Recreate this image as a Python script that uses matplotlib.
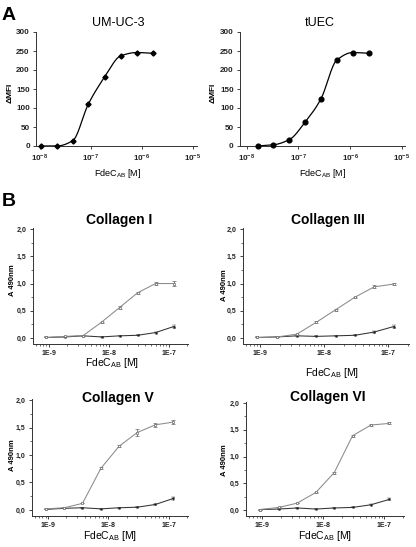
import numpy as np
import matplotlib
matplotlib.use("Agg")
import matplotlib.pyplot as plt
from matplotlib.ticker import FixedLocator, LogLocator, NullFormatter, NullLocator

plt.rcParams['font.family'] = ['Liberation Sans', 'DejaVu Sans']
plt.rcParams['mathtext.fontset'] = 'custom'
plt.rcParams['mathtext.rm'] = 'Liberation Sans'
plt.rcParams['mathtext.bf'] = 'Liberation Sans:bold'
plt.rcParams['mathtext.default'] = 'regular'

# ---------------- Data: panel A ----------------
umuc3_conc = [1.03e-8, 2.14e-8, 4.37e-8, 8.9e-8, 1.86e-7, 3.8e-7, 7.9e-7, 1.62e-6]
umuc3_mfi = [0, 0, 14, 111, 182, 237, 246, 244]
tuec_conc = [1.62e-8, 3.27e-8, 6.7e-8, 1.35e-7, 2.7e-7, 5.5e-7, 1.12e-6, 2.3e-6]
tuec_mfi = [0, 3, 17, 63, 123, 226, 246, 244]
a_titles = ["UM-UC-3", "tUEC"]
a_xticks = [1e-8, 1e-7, 1e-6, 1e-5]
a_yticks = [0, 50, 100, 150, 200, 250, 300]

# ---------------- Data: panel B ----------------
b_conc = [0.9e-9, 1.85e-9, 3.7e-9, 7.5e-9, 1.5e-8, 3.0e-8, 6.0e-8, 1.2e-7]
b_titles = ["Collagen I", "Collagen III", "Collagen V", "Collagen VI"]
b_upper = [
    [0.01, 0.03, 0.045, 0.29, 0.56, 0.83, 1.00, 1.00],
    [0.01, 0.02, 0.07, 0.29, 0.52, 0.75, 0.94, 0.99],
    [0.02, 0.04, 0.12, 0.76, 1.16, 1.41, 1.55, 1.60],
    [0.01, 0.05, 0.13, 0.33, 0.70, 1.39, 1.59, 1.62],
]
b_upper_err = [
    [0, 0, 0, 0.01, 0.03, 0.02, 0.02, 0.05],
    [0, 0, 0.01, 0.02, 0.02, 0.01, 0.03, 0.02],
    [0, 0, 0, 0.02, 0.02, 0.07, 0.04, 0.03],
    [0, 0, 0, 0.01, 0.02, 0.02, 0.02, 0.02],
]
b_lower = [
    [0.01, 0.02, 0.04, 0.02, 0.04, 0.05, 0.10, 0.21],
    [0.01, 0.02, 0.04, 0.03, 0.04, 0.05, 0.11, 0.21],
    [0.01, 0.03, 0.04, 0.02, 0.04, 0.05, 0.10, 0.21],
    [0.01, 0.02, 0.04, 0.02, 0.04, 0.05, 0.10, 0.20],
]
b_lower_err = [
    [0, 0, 0, 0, 0, 0, 0.01, 0.02],
    [0, 0, 0, 0, 0, 0, 0.01, 0.02],
    [0, 0, 0, 0, 0, 0, 0.01, 0.02],
    [0, 0, 0, 0, 0, 0, 0.01, 0.02],
]
b_xticks = [1e-9, 1e-8, 1e-7]
b_xticklabels = ["1E-9", "1E-8", "1E-7"]
b_yticks = [0.0, 0.5, 1.0, 1.5, 2.0]
b_yticklabels = ["0,0", "0,5", "1,0", "1,5", "2,0"]

W, H = 416, 547
fig = plt.figure(figsize=(W / 100, H / 100), dpi=100)


def rect(x0, x1, ytop, ybot):
    return [x0 / W, 1 - ybot / H, (x1 - x0) / W, (ybot - ytop) / H]


def ftext(x, y, s, **kw):
    fig.text(x / W, 1 - y / H, s, ha=kw.pop('ha', 'center'), va=kw.pop('va', 'center'), **kw)


def pchip(x, y, xn):
    x = np.asarray(x, float); y = np.asarray(y, float)
    h = np.diff(x); d = np.diff(y) / h
    n = len(x); m = np.zeros(n)
    for k in range(1, n - 1):
        if d[k - 1] * d[k] <= 0:
            m[k] = 0
        else:
            w1 = 2 * h[k] + h[k - 1]; w2 = h[k] + 2 * h[k - 1]
            m[k] = (w1 + w2) / (w1 / d[k - 1] + w2 / d[k])
    m[0] = d[0]; m[-1] = d[-1]
    idx = np.clip(np.searchsorted(x, xn) - 1, 0, n - 2)
    t = (xn - x[idx]) / h[idx]
    h00 = 2 * t**3 - 3 * t**2 + 1; h10 = t**3 - 2 * t**2 + t
    h01 = -2 * t**3 + 3 * t**2; h11 = t**3 - t**2
    return h00 * y[idx] + h10 * h[idx] * m[idx] + h01 * y[idx + 1] + h11 * h[idx] * m[idx + 1]


# ---------------- Panel A ----------------
a_rects = [rect(36, 197, 32, 146), rect(240, 405, 32, 146)]
a_xlims = [(10**-8.08, 10**-4.92), (10**-8.13, 10**-4.94)]
a_data = [(umuc3_conc, umuc3_mfi, 'D', 2.6), (tuec_conc, tuec_mfi, 'o', 3.4)]
a_title_pos = [(118, 23), (320, 23)]
a_xlabel_pos = [(118, 173), (323, 173)]
a_ylabel_pos = [(10, 93), (213, 93)]

for i in range(2):
    ax = fig.add_axes(a_rects[i])
    xs, ys, mk, ms = a_data[i]
    lx = np.log10(xs)
    xn = np.linspace(lx[0], lx[-1], 300)
    ax.plot(10**xn, pchip(lx, ys, xn), color='black', lw=0.9, clip_on=False)
    ax.plot(xs, ys, linestyle='none', marker=mk, color='black', ms=ms, clip_on=False, zorder=3)
    ax.set_xscale('log')
    ax.set_xlim(*a_xlims[i])
    ax.set_ylim(0, 300)
    ax.xaxis.set_major_locator(FixedLocator(a_xticks))
    ax.xaxis.set_minor_locator(NullLocator())
    ax.yaxis.set_major_locator(FixedLocator(a_yticks))
    for s in ['top', 'right']:
        ax.spines[s].set_visible(False)
    for s in ['left', 'bottom']:
        ax.spines[s].set_linewidth(0.7)
        ax.spines[s].set_color('#333333')
    ax.tick_params(direction='out', length=2.5, width=0.6, labelsize=5.8, pad=2, colors='#222222')
    for lab in ax.get_xticklabels() + ax.get_yticklabels():
        lab.set_fontweight('bold')
    ftext(*a_title_pos[i], a_titles[i], fontsize=9)
    ftext(*a_xlabel_pos[i], r"FdeC$_{AB}$ [M]", fontsize=6.5)
    ftext(*a_ylabel_pos[i], "ΔMFI", fontsize=6, rotation=90, fontweight='bold')

ftext(2, 15, "A", fontsize=14, fontweight='bold', ha='left')
ftext(2, 202, "B", fontsize=14, fontweight='bold', ha='left')

# ---------------- Panel B ----------------
b_rects = [rect(33, 188, 228, 344), rect(243, 409, 228, 344),
           rect(32, 188, 399, 516), rect(246, 404, 402, 516)]
b_title_pos = [(119, 220), (328, 220), (118, 398), (328, 397)]
b_xlabel_pos = [(112, 363), (332, 373), (110, 536), (325, 536)]
b_ylabel_pos = [(12, 280), (225, 285), (12, 455), (225, 460)]

for i in range(4):
    ax = fig.add_axes(b_rects[i])
    ax.errorbar(b_conc, b_upper[i], yerr=b_upper_err[i], color='#8a8a8a', lw=0.75,
                marker='s', ms=1.8, mfc='white', mec='#6a6a6a', mew=0.5,
                ecolor='#6a6a6a', elinewidth=0.6, capsize=1.5, capthick=0.6, zorder=3)
    ax.errorbar(b_conc, b_lower[i], yerr=b_lower_err[i], color='#333333', lw=0.75,
                marker='s', ms=1.2, mfc='#222222', mec='#222222', mew=0.3,
                ecolor='#333333', elinewidth=0.6, capsize=1.5, capthick=0.6, zorder=2)
    ax.set_xscale('log')
    ax.set_xlim(10**-9.27, 10**-6.68)
    ax.set_ylim(-0.11, 2.02)
    ax.xaxis.set_major_locator(FixedLocator(b_xticks))
    ax.set_xticklabels(b_xticklabels)
    ax.xaxis.set_minor_locator(LogLocator(base=10, subs=np.arange(2, 10)))
    ax.xaxis.set_minor_formatter(NullFormatter())
    ax.yaxis.set_major_locator(FixedLocator(b_yticks))
    ax.set_yticklabels(b_yticklabels)
    ax.yaxis.set_minor_locator(FixedLocator([0.25, 0.75, 1.25, 1.75]))
    for s in ['top', 'right']:
        ax.spines[s].set_visible(False)
    for s in ['left', 'bottom']:
        ax.spines[s].set_linewidth(0.7)
        ax.spines[s].set_color('#333333')
    ax.tick_params(which='major', direction='out', length=2.5, width=0.6, labelsize=5, pad=2, colors='#222222')
    ax.tick_params(which='minor', direction='out', length=1.5, width=0.5, colors='#333333')
    for lab in ax.get_xticklabels() + ax.get_yticklabels():
        lab.set_fontweight('bold')
    ftext(*b_title_pos[i], b_titles[i], fontsize=10, fontweight='bold')
    ftext(*b_xlabel_pos[i], r"FdeC$_{AB}$ [M]", fontsize=7.5)
    ftext(*b_ylabel_pos[i], "A 490nm", fontsize=5.5, rotation=90, fontweight='bold')

fig.savefig("out.png", dpi=100)
